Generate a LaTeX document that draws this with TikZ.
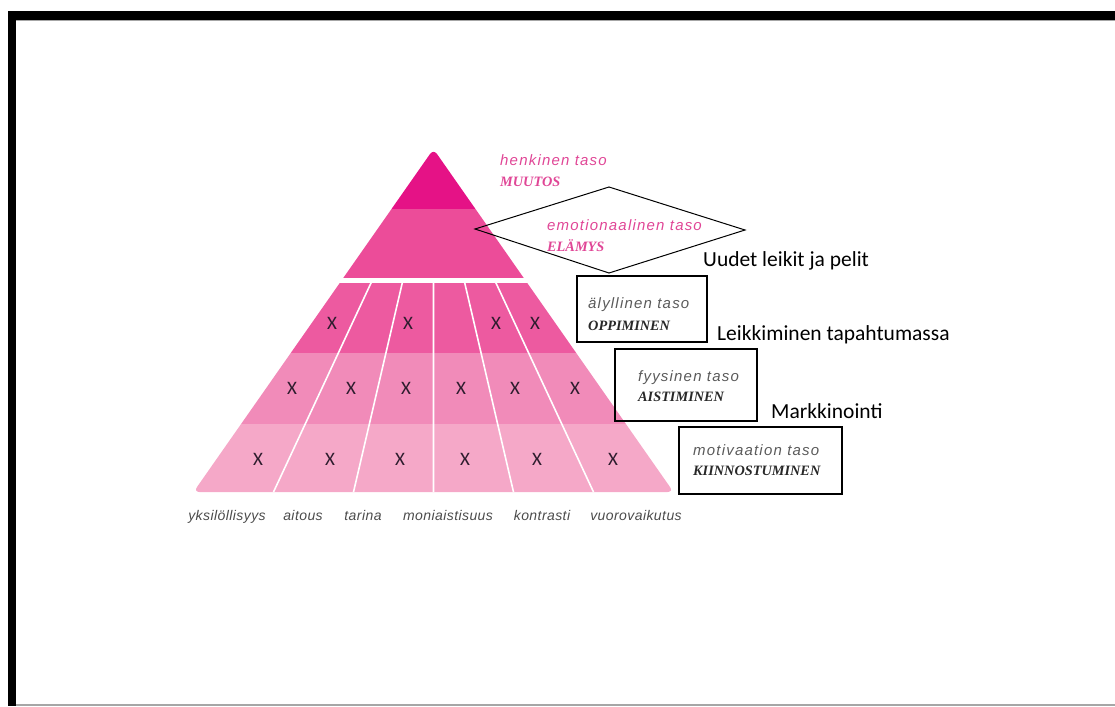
\documentclass[tikz,border=0pt]{standalone}
\usepackage{fontspec}
\setmainfont{Liberation Sans}
\newfontfamily\lblfont[LetterSpace=8]{Liberation Sans}
\newfontfamily\botfont[LetterSpace=3]{Liberation Sans}
\newfontfamily\serfont{Liberation Serif}
\newfontfamily\calfont{Carlito}
\usetikzlibrary{calc}
\definecolor{cA}{RGB}{229,18,134}
\definecolor{cB}{RGB}{236,76,153}
\definecolor{cC}{RGB}{237,90,160}
\definecolor{cD}{RGB}{241,139,185}
\definecolor{cE}{RGB}{245,168,200}
\definecolor{pinktxt}{RGB}{224,70,150}
\definecolor{graytxt}{RGB}{90,90,90}
\definecolor{darktxt}{RGB}{40,40,40}
\definecolor{bottxt}{RGB}{75,75,75}
\definecolor{xcol}{RGB}{45,28,45}
\tikzset{
  lvl/.style={anchor=base west, inner sep=0pt, font=\fontsize{15}{17}\lblfont\itshape},
  lvlbold/.style={anchor=base west, inner sep=0pt, font=\fontsize{14.3}{16}\serfont\bfseries\itshape},
  note/.style={anchor=base west, inner sep=0pt, font=\fontsize{21.5}{24}\calfont, text=black},
  botlbl/.style={anchor=base, inner sep=0pt, text=bottxt, font=\fontsize{14}{16}\botfont\itshape},
  xmark/.style={inner sep=0pt, text=xcol, font=\fontsize{19}{21}\calfont},
  lvlbox/.style={draw=black, line width=1.2pt, fill=none, inner sep=0pt},
  divline/.style={white, line width=1.6pt},
}
\begin{document}
\begin{tikzpicture}[x=1pt,y=-1pt]
\useasboundingbox (0,0) rectangle (1115,706);
% frame
\fill[black] (8,11) rectangle (16,706);
\fill[black] (8,11) rectangle (1115,20);
\draw[gray!70, line width=1pt] (16,20.5) -- (1115,20.5);
\draw[gray!70, line width=1.5pt] (16,705) -- (1115,705);
% pyramid
\coordinate (apex) at (433.5,149);
\coordinate (BL) at (193.5,492);
\coordinate (BR) at (673.5,492);
\begin{scope}
\clip[rounded corners=6pt] (apex) -- (BR) -- (BL) -- cycle;
\fill[cA] (150,140) rectangle (720,209);
\fill[cB] (150,209) rectangle (720,278);
\fill[white] (150,278) rectangle (720,283);
\fill[cC] (150,283) rectangle (720,353);
\fill[cD] (150,353) rectangle (720,424);
\fill[cE] (150,424) rectangle (720,500);
\foreach \k in {1,...,5}{
  \coordinate (B\k) at ({193.5+80*\k},492);
  \draw[divline] ($(apex)!0.3889!(B\k)$) -- (B\k);
}
\end{scope}
% X marks
\foreach \x [count=\i] in {332,408,496,535}
  \node[xmark] (xa\i) at (\x,323) {X};
\foreach \x [count=\i] in {292,351,406,461,515,575}
  \node[xmark] (xb\i) at (\x,388) {X};
\foreach \x [count=\i] in {258,330,400,465,537,613}
  \node[xmark] (xc\i) at (\x,459) {X};
% bottom labels
\node[botlbl] (l1) at (227,520) {yksilöllisyys};
\node[botlbl] (l2) at (303,520) {aitous};
\node[botlbl] (l3) at (363,520) {tarina};
\node[botlbl] (l4) at (448,520) {moniaistisuus};
\node[botlbl] (l5) at (542,520) {kontrasti};
\node[botlbl] (l6) at (636,520) {vuorovaikutus};
% top pink labels
\node[lvl, text=pinktxt] (t1) at (500,165) {henkinen taso};
\node[lvlbold, text=pinktxt] (t1b) at (500,186) {MUUTOS};
% diamond
\coordinate (dl) at (475,229);
\coordinate (dt) at (609,187);
\coordinate (dr) at (745,230);
\coordinate (db) at (609,273);
\draw[black, line width=1pt] (dl) -- (dt) -- (dr) -- (db) -- cycle;
\node[lvl, text=pinktxt] (t2) at (547,230) {emotionaalinen taso};
\node[lvlbold, text=pinktxt] (t2b) at (547,251) {ELÄMYS};
% boxes
\node[lvlbox, minimum width=130pt, minimum height=66pt] (box1) at (642,309) {};
\node[lvl, text=graytxt] (t3) at (588,308) {älyllinen taso};
\node[lvlbold, text=darktxt] (t3b) at (588,330) {OPPIMINEN};
\node[lvlbox, minimum width=142pt, minimum height=72pt] (box2) at (686,385) {};
\node[lvl, text=graytxt] (t4) at (638,381) {fyysinen taso};
\node[lvlbold, text=darktxt] (t4b) at (638,401) {AISTIMINEN};
\node[lvlbox, minimum width=163pt, minimum height=67pt] (box3) at (760.5,460.5) {};
\node[lvl, text=graytxt] (t5) at (693,455) {motivaation taso};
\node[lvlbold, text=darktxt] (t5b) at (693,475) {KIINNOSTUMINEN};
% notes
\node[note] (n1) at (703,266) {Uudet leikit ja pelit};
\node[note] (n2) at (717,340) {Leikkiminen tapahtumassa};
\node[note] (n3) at (771,418) {Markkinointi};
\end{tikzpicture}
\end{document}
